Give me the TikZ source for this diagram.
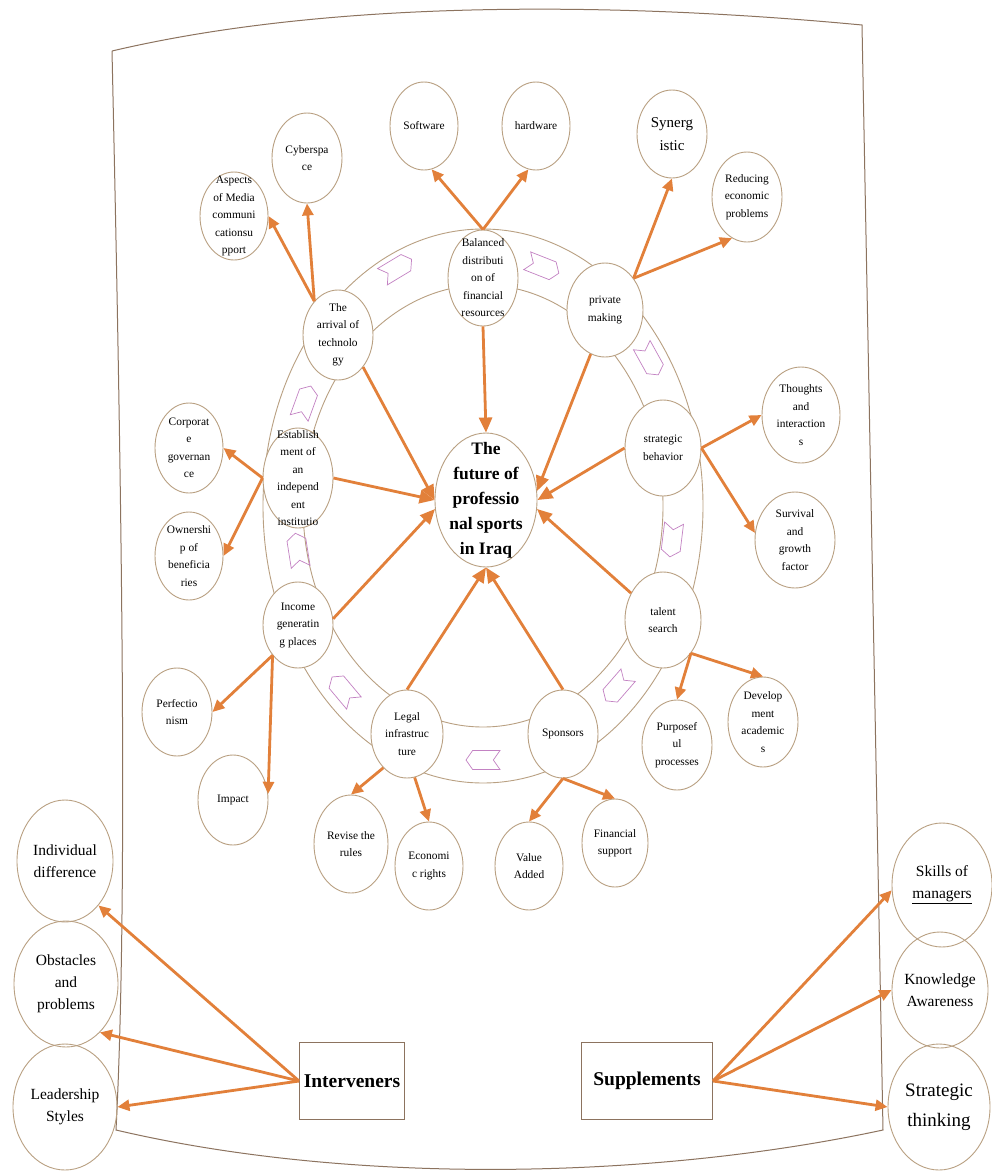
\documentclass[tikz,border=0pt]{standalone}
\usepackage{fontspec}
\setmainfont{Liberation Serif}
\usetikzlibrary{shapes.geometric,shapes.symbols,arrows.meta}
\definecolor{nodeline}{RGB}{185,160,130}
\definecolor{framecol}{RGB}{140,115,95}
\definecolor{arrowcol}{RGB}{226,128,58}
\definecolor{chevcol}{RGB}{195,130,195}
\tikzset{
 bub/.style={ellipse, draw=nodeline, line width=0.9pt, fill=white, inner sep=0pt},
 bigbub/.style={ellipse, draw=nodeline, line width=0.9pt, inner sep=0pt},
 stxt/.style={align=center, inner sep=0pt, font=\fontsize{11.4}{17.5}\selectfont},
 ltxt/.style={align=center, inner sep=0pt, font=\fontsize{15.5}{22}\selectfont},
 syntxt/.style={align=center, inner sep=0pt, font=\fontsize{15}{23}\selectfont},
 sttxt/.style={align=center, inner sep=0pt, font=\fontsize{19}{30}\selectfont},
 centxt/.style={align=center, inner sep=0pt, font=\fontsize{17.5}{25}\selectfont\bfseries},
 arr/.style={draw=arrowcol, line width=2.8pt, -{Triangle[length=12pt,width=11pt]}},
 carr/.style={draw=arrowcol, line width=2.8pt, -{Triangle[length=15pt,width=13pt]}},
 chev/.style={signal, signal to=east, signal from=west, draw=chevcol, line width=0.7pt,
   minimum width=34pt, minimum height=19pt, inner sep=0pt, signal pointer angle=110},
 boxn/.style={rectangle, draw=framecol, line width=1pt, fill=white, inner sep=0pt,
   font=\fontsize{19.5}{23}\selectfont\bfseries},
 ring/.style={draw=nodeline, line width=0.9pt},
 frame/.style={draw=framecol, line width=1pt}
}
\newcommand{\mybub}[7][stxt]{%
 \node[bub, minimum width=#5pt, minimum height=#6pt] (#2) at (#3,#4) {};
 \node[#1] at (#2) {#7};}
\newcommand{\mybig}[7][ltxt]{%
 \node[bigbub, minimum width=#5pt, minimum height=#6pt] (#2) at (#3,#4) {};
 \node[#1] at (#2) {#7};}
\begin{document}
\begin{tikzpicture}[x=1pt,y=-1pt]
\fill[white] (0,0) rectangle (992,1173);
\useasboundingbox (0,0) rectangle (992,1173);
% frame
\coordinate (ftl) at (112,51);
\coordinate (ftr) at (862,25);
\coordinate (fbr) at (883,1130);
\coordinate (fbl) at (116,1130);
\draw[frame] (ftl) .. controls (350,-5) and (650,5) .. (ftr)
  -- (fbr) .. controls (650,1180) and (350,1185) .. (fbl)
  .. controls (128,900) and (122,500) .. (ftl);
% ring
\draw[ring] (483,506) ellipse [x radius=220, y radius=277];
\draw[ring] (483,506) ellipse [x radius=180, y radius=221];
% chevrons
\node[chev, rotate=31] (c1) at (397,268) {};
\node[chev, rotate=-21.5] (c2) at (543,267) {};
\node[chev, rotate=-61] (c3) at (650,360) {};
\node[chev, rotate=-97] (c4) at (672,540) {};
\node[chev, rotate=-131] (c5) at (617,688) {};
\node[chev, rotate=180] (c6) at (483,760) {};
\node[chev, rotate=130] (c7) at (343,690) {};
\node[chev, rotate=99] (c8) at (298,550) {};
\node[chev, rotate=70] (c9) at (305,402) {};
% ring nodes
\mybub{bal}{483}{278}{70}{96}{Balanced\\distributi\\on of\\financial\\resources}
\mybub{arv}{338}{335}{70}{90}{The\\arrival of\\technolo\\gy}
\mybub{priv}{605}{310}{76}{94}{private\\making}
\mybub{strat}{663}{448}{76}{96}{strategic\\behavior}
\mybub{est}{298}{478}{70}{100}{Establish\\ment of\\an\\independ\\ent\\institutio}
\mybub{inc}{298}{625}{70}{86}{Income\\generatin\\g places}
\mybub{tal}{663}{620}{76}{96}{talent\\search}
\mybub{legal}{407}{734}{72}{88}{Legal\\infrastruc\\ture}
\mybub{spons}{563}{734}{70}{88}{Sponsors}
% centre
\mybub[centxt]{cen}{486}{500}{102}{134}{The\\future of\\professio\\nal sports\\in Iraq}
% outer nodes
\mybub{cyb}{307}{158}{70}{90}{Cyberspa\\ce}
\mybub{asp}{234}{216}{68}{88}{Aspects\\of Media\\communi\\cationsu\\pport}
\mybub{soft}{424}{126}{68}{88}{Software}
\mybub{hard}{536}{126}{68}{88}{hardware}
\mybub[syntxt]{syn}{672}{134}{70}{88}{Synerg\\istic}
\mybub{red}{747}{197}{70}{90}{Reducing\\economic\\problems}
\mybub{tho}{801}{415}{78}{96}{Thoughts\\and\\interaction\\s}
\mybub{surv}{795}{540}{80}{96}{Survival\\and\\growth\\factor}
\mybub{corp}{189}{448}{68}{90}{Corporat\\e\\governan\\ce}
\mybub{own}{189}{556}{68}{88}{Ownershi\\p of\\beneficia\\ries}
\mybub{perf}{177}{712}{70}{88}{Perfectio\\nism}
\mybub{imp}{233}{800}{70}{90}{Impact}
\mybub{rev}{351}{844}{74}{98}{Revise the\\rules}
\mybub{eco}{429}{866}{68}{88}{Economi\\c rights}
\mybub{val}{529}{866}{68}{88}{Value\\Added}
\mybub{fin}{615}{843}{66}{88}{Financial\\support}
\mybub{purp}{677}{745}{70}{90}{Purposef\\ul\\processes}
\mybub{dev}{763}{722}{70}{90}{Develop\\ment\\academic\\s}
% big side nodes
\mybig{ind}{65}{861}{96}{122}{Individual\\difference}
\mybig{obs}{66}{984}{104}{126}{Obstacles\\and\\problems}
\mybig{lead}{65}{1107}{104}{126}{Leadership\\Styles}
\mybig{skl}{942}{885}{100}{124}{Skills of\\\underline{managers}}
\mybig{know}{940}{990}{96}{116}{Knowledge\\Awareness}
\mybig[sttxt]{stth}{939}{1107}{102}{126}{Strategic\\thinking}
% boxes
\node[boxn, minimum width=105pt, minimum height=77pt] (int) at (352,1081) {Interveners};
\node[boxn, minimum width=131pt, minimum height=77pt] (sup) at (647,1081) {Supplements};
% outward arrows
\draw[arr] (arv.125) -- (asp.east);
\draw[arr] (arv.125) -- (cyb.south);
\draw[arr] (bal.north) -- (soft.280);
\draw[arr] (bal.north) -- (hard.260);
\draw[arr] (priv.48) -- (syn.south);
\draw[arr] (priv.48) -- (red.250);
\draw[arr] (strat.east) -- (tho.west);
\draw[arr] (strat.east) -- (surv.170);
\draw[arr] (est.west) -- (corp.east);
\draw[arr] (est.west) -- (own.east);
\draw[arr] (inc.230) -- (perf.east);
\draw[arr] (inc.230) -- (imp.10);
\draw[arr] (legal.235) -- (rev.north);
\draw[arr] (legal.280) -- (eco.north);
\draw[arr] (spons.south) -- (val.north);
\draw[arr] (spons.south) -- (fin.north);
\draw[arr] (tal.310) -- (purp.north);
\draw[arr] (tal.310) -- (dev.north);
% arrows to centre
\draw[carr] (bal.south) -- (cen.north);
\draw[carr] (priv.252) -- (cen.10);
\draw[carr] (strat.west) -- (cen.east);
\draw[carr] (tal.140) -- (cen.-10);
\draw[carr] (spons.north) -- (cen.south);
\draw[carr] (legal.north) -- (cen.south);
\draw[carr] (inc.10) -- (cen.190);
\draw[carr] (est.east) -- (cen.west);
\draw[carr] (arv.-52) -- (cen.west);
% side arrows
\draw[arr] (int.west) -- (ind.-53);
\draw[arr] (int.west) -- (obs.-55);
\draw[arr] (int.west) -- (lead.east);
\draw[arr] (sup.east) -- (skl.186);
\draw[arr] (sup.east) -- (know.west);
\draw[arr] (sup.east) -- (stth.west);
\end{tikzpicture}
\end{document}
